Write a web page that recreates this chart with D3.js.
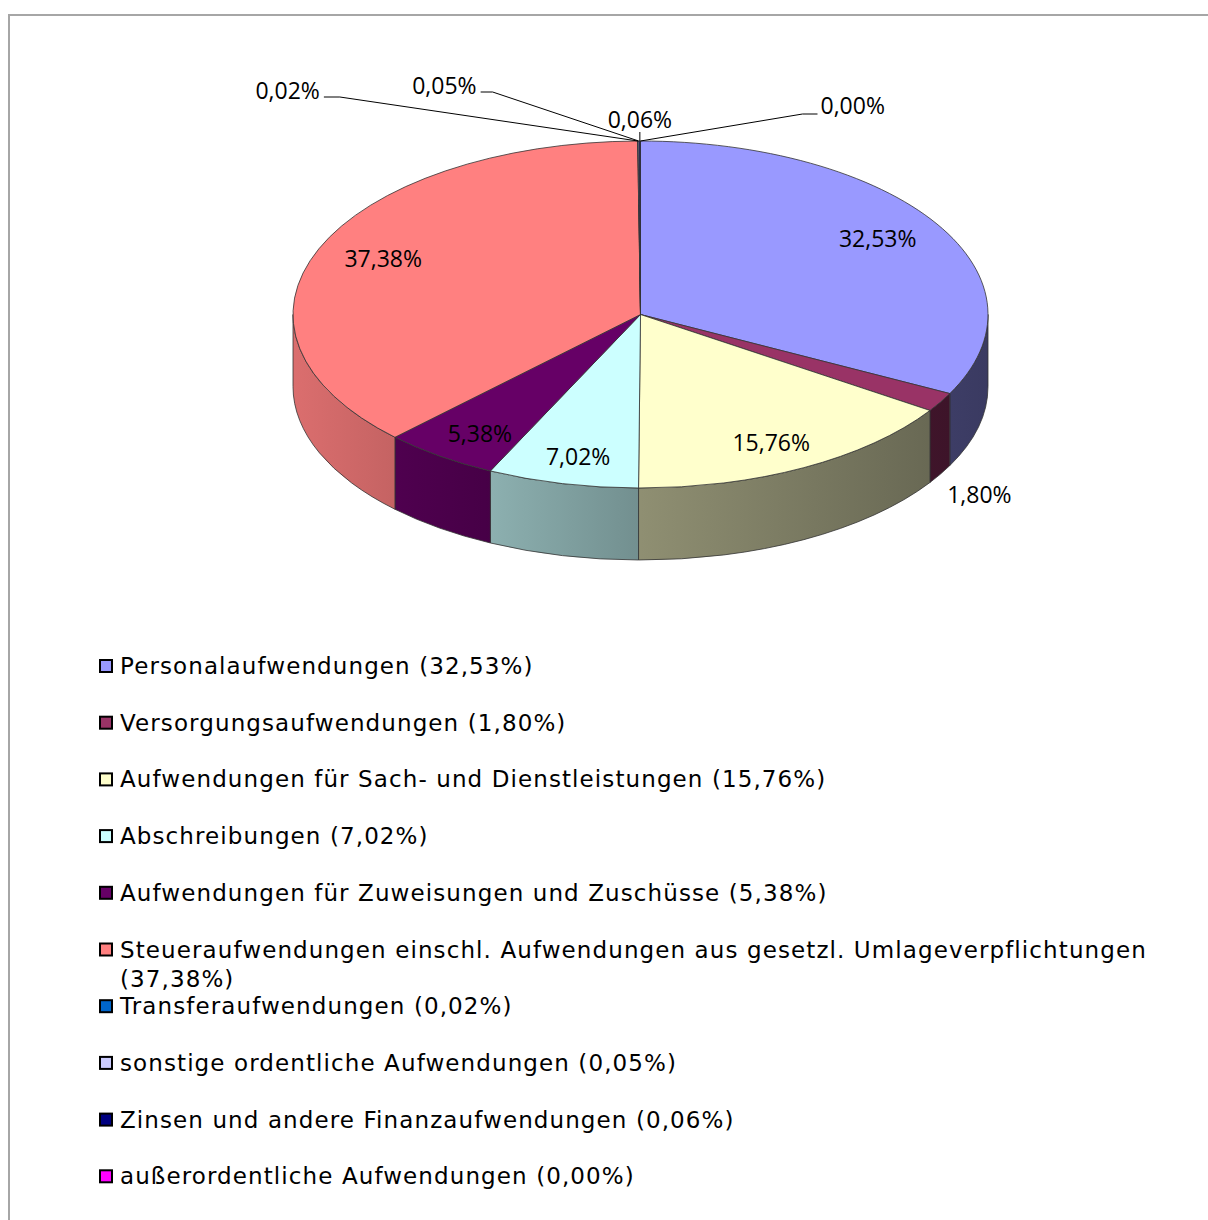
<!DOCTYPE html>
<html>
<head>
<meta charset="utf-8">
<script src="https://cdn.jsdelivr.net/npm/d3@7"></script>
<style>
  html, body { margin: 0; padding: 0; background: #fff; }
  svg { display: block; }
</style>
</head>
<body>
<div id="chart"></div>
<script>
// --- data
const categories = [
    'Personalaufwendungen',
    'Versorgungsaufwendungen',
    'Aufwendungen für Sach- und Dienstleistungen',
    'Abschreibungen',
    'Aufwendungen für Zuweisungen und Zuschüsse',
    'Steueraufwendungen einschl. Aufwendungen aus gesetzl. Umlageverpflichtungen',
    'Transferaufwendungen',
    'sonstige ordentliche Aufwendungen',
    'Zinsen und andere Finanzaufwendungen',
    'außerordentliche Aufwendungen'
];
const shares = [32.53, 1.80, 15.76, 7.02, 5.38, 37.38, 0.02, 0.05, 0.06, 0.00];
const colors = ['#9999FF', '#993366', '#FFFFCC', '#CCFFFF', '#660066',
    '#FF8080', '#0066CC', '#CCCCFF', '#000080', '#FF00FF'];

// --- layout
const W = 1208, H = 1220;
const cx = 640.5, cy = 314.5, rx = 347.5, ry = 173.5, depth = 72;
const legendX = 99, legendY = 666, legendStep = 56.7, legendMaxW = 1030;
// manual callout positions for the tiny slices, relative to the slice tip
const callouts = {
    6: {elbow: [-298, -44], end: [-314, -44], text: [-318, -50], anchor: 'end'},
    7: {elbow: [-146, -49], end: [-158, -49], text: [-162, -55], anchor: 'end'},
    8: {elbow: [0, -9], end: [0, -9], text: [0, -21], anchor: 'middle'},
    9: {elbow: [162, -27], end: [177, -27], text: [180, -35], anchor: 'start'}
};

const de = d3.formatLocale({decimal: ',', thousands: '.', grouping: [3], currency: ['', '€']});
const pct = v => de.format('.2f')(v) + '%';

const svg = d3.select('#chart').append('svg')
    .attr('width', W).attr('height', H);

const defs = svg.append('defs');

// frame
svg.append('rect')
    .attr('x', 9).attr('y', 15)
    .attr('width', W + 20).attr('height', H + 20)
    .attr('fill', 'none')
    .attr('stroke', '#a6a6a6')
    .attr('stroke-width', 2);

const pie = d3.pie().sort(null).value(d => d)(shares);

const pt = (a, dy = 0, k = 1) => [cx + rx * k * Math.sin(a), cy - ry * k * Math.cos(a) + dy];

// side shading: lighter on the left, darker on the right
const shade = d3.scaleLinear().domain([cx - rx, cx, cx + rx]).range([0.86, 0.56, 0.38]);
pie.forEach((p, i) => {
    const c = d3.rgb(colors[i]);
    const g = defs.append('linearGradient')
        .attr('id', 'side' + i)
        .attr('gradientUnits', 'userSpaceOnUse')
        .attr('x1', cx - rx).attr('x2', cx + rx)
        .attr('y1', 0).attr('y2', 0);
    [0, 0.5, 1].forEach(o => {
        const f = shade(cx - rx + o * 2 * rx);
        g.append('stop')
            .attr('offset', o)
            .attr('stop-color', d3.rgb(c.r * f, c.g * f, c.b * f).formatHex());
    });
});

const chart = svg.append('g');

// -- side faces (front half only)
const sides = chart.append('g').attr('class', 'sides');
pie.forEach((p, i) => {
    const s = Math.max(p.startAngle, Math.PI / 2);
    const e = Math.min(p.endAngle, Math.PI * 1.5);
    if (e - s <= 0) return;
    const [x0, y0] = pt(s), [x1, y1] = pt(e);
    const d = `M${x0},${y0} A${rx},${ry} 0 0 1 ${x1},${y1} L${x1},${y1 + depth}` +
        ` A${rx},${ry} 0 0 0 ${x0},${y0 + depth} Z`;
    sides.append('path')
        .attr('d', d)
        .attr('fill', `url(#side${i})`)
        .attr('stroke', '#333')
        .attr('stroke-width', 0.8)
        .attr('stroke-linejoin', 'round');
});

// -- top faces
const tops = chart.append('g').attr('class', 'tops');
pie.forEach((p, i) => {
    if (p.endAngle - p.startAngle <= 0) return;
    const [x0, y0] = pt(p.startAngle), [x1, y1] = pt(p.endAngle);
    const large = p.endAngle - p.startAngle > Math.PI ? 1 : 0;
    tops.append('path')
        .attr('d', `M${cx},${cy} L${x0},${y0} A${rx},${ry} 0 ${large} 1 ${x1},${y1} Z`)
        .attr('fill', colors[i])
        .attr('stroke', '#333')
        .attr('stroke-width', 0.8)
        .attr('stroke-linejoin', 'round');
});

// -- labels
const labels = chart.append('g')
    .attr('font-family', '"Open Sans", "Noto Sans", sans-serif')
    .attr('font-size', 23)
    .attr('fill', '#000');

pie.forEach((p, i) => {
    const mid = (p.startAngle + p.endAngle) / 2;
    const v = shares[i];
    if (v >= 5) {
        labels.append('text')
            .attr('x', cx + rx * 0.8 * Math.sin(mid))
            .attr('y', cy - ry * 0.84 * Math.cos(mid))
            .attr('dy', '0.35em')
            .attr('text-anchor', 'middle')
            .text(pct(v));
    } else if (v >= 1) {
        labels.append('text')
            .attr('x', cx + rx * 1.13 * Math.sin(mid))
            .attr('y', cy - ry * 1.1 * Math.cos(mid) + depth + 12)
            .attr('dy', '0.35em')
            .attr('text-anchor', 'middle')
            .text(pct(v));
    } else {
        const c = callouts[i];
        const [tx, ty] = pt(mid);
        labels.append('polyline')
            .attr('points', [[tx, ty], [tx + c.elbow[0], ty + c.elbow[1]], [tx + c.end[0], ty + c.end[1]]]
                .map(q => q.join(',')).join(' '))
            .attr('fill', 'none')
            .attr('stroke', '#000')
            .attr('stroke-width', 1);
        labels.append('text')
            .attr('x', tx + c.text[0])
            .attr('y', ty + c.text[1])
            .attr('dy', '0.35em')
            .attr('text-anchor', c.anchor)
            .text(pct(v));
    }
});

// -- legend
const legend = svg.append('g')
    .attr('font-family', '"DejaVu Sans", Verdana, sans-serif')
    .attr('font-size', 23)
    .attr('letter-spacing', 1.1)
    .attr('fill', '#000');

categories.forEach((name, i) => {
    const y = legendY + i * legendStep;
    legend.append('rect')
        .attr('x', legendX + 1).attr('y', y - 6)
        .attr('width', 12).attr('height', 12)
        .attr('fill', colors[i])
        .attr('stroke', '#000')
        .attr('stroke-width', 2);
    const full = `${name} (${pct(shares[i])})`;
    const t = legend.append('text')
        .attr('x', legendX + 21)
        .attr('y', y)
        .attr('dy', '0.35em')
        .text(full);
    if (t.node().getComputedTextLength() > legendMaxW) {
        t.text(name);
        legend.append('text')
            .attr('x', legendX + 21)
            .attr('y', y + 29)
            .attr('dy', '0.35em')
            .text(`(${pct(shares[i])})`);
    }
});
</script>
</body>
</html>
